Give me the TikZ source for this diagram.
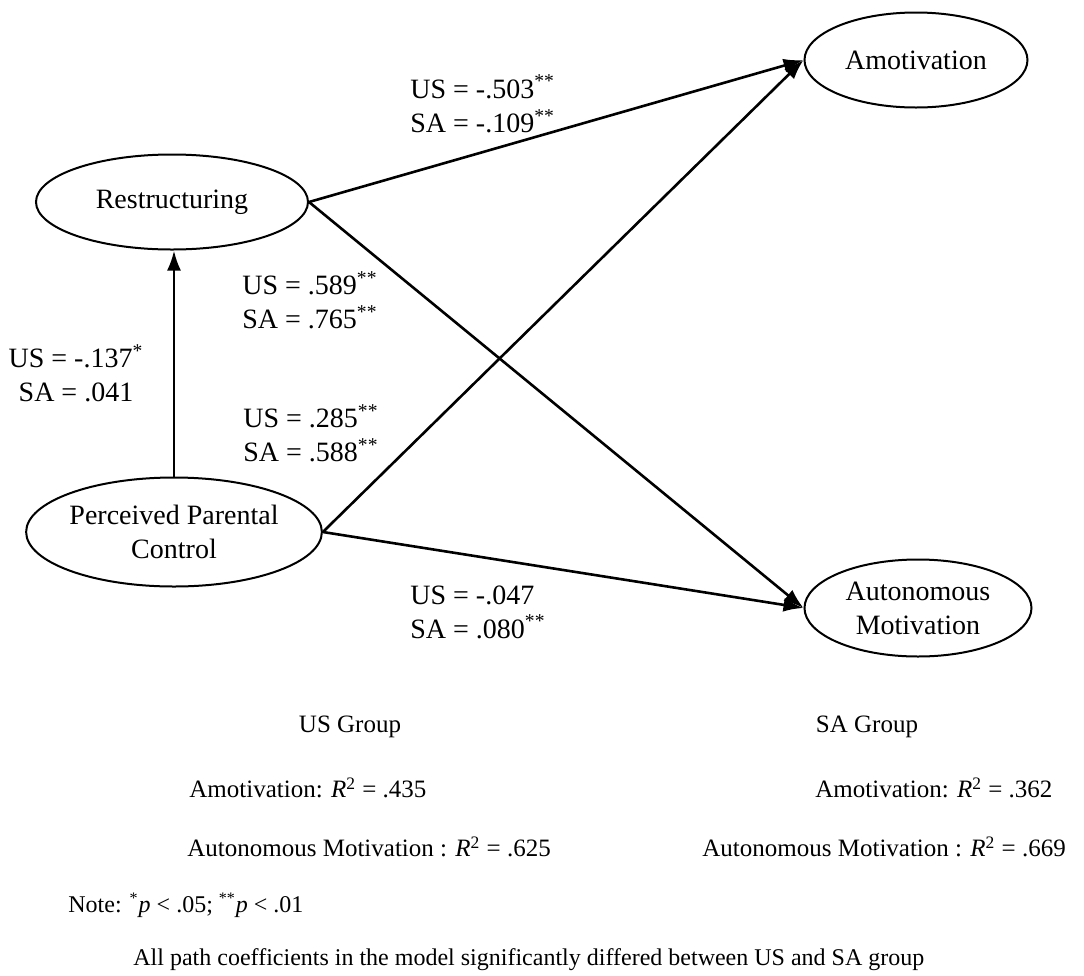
\documentclass[tikz,border=0pt]{standalone}
\usepackage{fontspec}
\setmainfont{Liberation Serif}
\usetikzlibrary{shapes.geometric,arrows.meta}
\begin{document}
\begin{tikzpicture}[x=0.5pt,y=-0.5pt,
  latent/.style={ellipse,draw,line width=1pt,inner sep=0pt,align=center,font=\fontsize{14}{17}\selectfont},
  pathline/.style={line width=1.3pt,-{Latex[length=10pt,width=7pt]}},
  coef/.style={inner sep=0pt,font=\fontsize{14}{17}\selectfont},
  info/.style={inner sep=0pt,anchor=west,font=\fontsize{12.5}{15}\selectfont},
  notetext/.style={inner sep=0pt,anchor=west,font=\fontsize{12}{14}\selectfont}]
\useasboundingbox[fill=white] (0,0) rectangle (1084,976);

\node[latent,minimum width=136pt,minimum height=47.5pt] (R) at (172,202) {Restructuring};
\node[latent,minimum width=140pt,minimum height=54.5pt] (P) at (174,532) {Perceived Parental\\Control};
\node[latent,minimum width=111.5pt,minimum height=47.5pt] (A) at (916,60) {Amotivation};
\node[latent,minimum width=113.5pt,minimum height=48.5pt] (M) at (918,608) {Autonomous\\Motivation};

\draw[pathline] (R.east) -- (A.west);
\draw[pathline] (R.east) -- (M.west);
\draw[pathline] (P.east) -- (A.west);
\draw[pathline] (P.east) -- (M.west);
\draw[pathline] (P.north) -- (P.north |- R.south);

\node[coef,anchor=west,align=left] (l1) at (410,104) {US = -.503\textsuperscript{**}\\SA = -.109\textsuperscript{**}};
\node[coef,anchor=west,align=left] (l2) at (242,300) {US = .589\textsuperscript{**}\\SA = .765\textsuperscript{**}};
\node[coef,anchor=west,align=left] (l3) at (243,433) {US = .285\textsuperscript{**}\\SA = .588\textsuperscript{**}};
\node[coef,align=center] (l4) at (76,373) {US = -.137\textsuperscript{*}\\SA = .041};
\node[coef,anchor=west,align=left] (l5) at (410,612) {US = -.047\\SA = .080\textsuperscript{**}};

\node[info,anchor=center] (g1) at (350,727) {US Group};
\node[info,anchor=center] (g2) at (867,727) {SA Group};
\node[info] (a1) at (189,788) {Amotivation: \textit{R}\textsuperscript{2} = .435};
\node[info] (b1) at (187,847) {Autonomous Motivation : \textit{R}\textsuperscript{2} = .625};
\node[info] (a2) at (815,788) {Amotivation: \textit{R}\textsuperscript{2} = .362};
\node[info] (b2) at (702,847) {Autonomous Motivation : \textit{R}\textsuperscript{2} = .669};
\node[notetext] (n) at (68,905) {Note: \textsuperscript{*}\textit{p} < .05; \textsuperscript{**}\textit{p} < .01};
\node[notetext] (all) at (133,960) {All path coefficients in the model significantly differed between US and SA group};
\end{tikzpicture}
\end{document}
